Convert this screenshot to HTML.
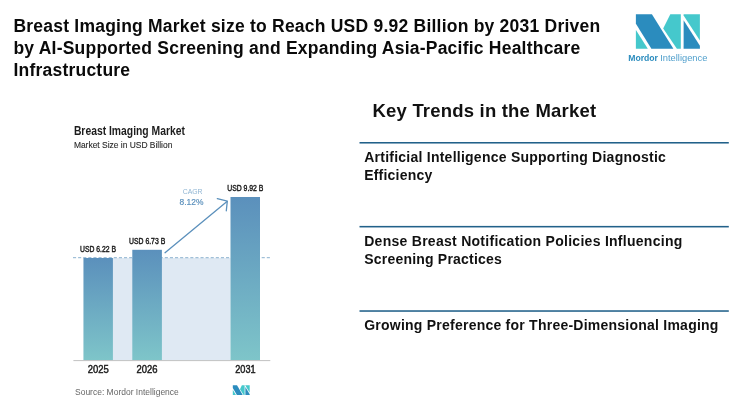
<!DOCTYPE html>
<html><head><meta charset="utf-8"><title>Breast Imaging Market</title>
<style>
html,body{margin:0;padding:0;background:#fff;}
body{width:750px;height:411px;position:relative;overflow:hidden;font-family:"Liberation Sans",sans-serif;color:#000;}
.abs{position:absolute;white-space:nowrap;}
#title{left:13.4px;top:14.55px;font-weight:bold;font-size:17.5px;line-height:22px;letter-spacing:0.225px;color:#0a0a0a;}
#kt{left:372.5px;top:100px;font-weight:bold;font-size:18.5px;line-height:22px;letter-spacing:0.2px;color:#111;}
.item{left:364.2px;font-weight:bold;font-size:14px;line-height:18px;letter-spacing:0.21px;color:#111;}
</style></head><body>
<div id="title" class="abs">Breast Imaging Market size to Reach USD 9.92 Billion by 2031 Driven<br>by AI-Supported Screening and Expanding Asia-Pacific Healthcare<br>Infrastructure</div>

<svg class="abs" style="left:0;top:0" width="750" height="411" viewBox="0 0 750 411">
  <!-- logo -->
  <g>
    <polygon points="635.9,14.3 651.9,14.3 673.4,48.8 651.4,48.8 635.9,23.8" fill="#2b8cbe"/>
    <polygon points="635.9,29.9 635.9,48.8 647.8,48.8" fill="#45c8cc"/>
    <polygon points="670.3,14.3 680.8,14.3 680.8,48.8 676.9,48.8 663.2,28.4" fill="#45c8cc"/>
    <polygon points="683.6,14.3 699.9,14.3 699.9,40.6 683.6,15.6" fill="#45c8cc"/>
    <polygon points="683.6,20.2 699.9,45.8 699.9,48.8 683.6,48.8" fill="#2b8cbe"/>
    <text x="628.2" y="61" font-family="Liberation Sans, sans-serif" font-size="9.2" font-weight="bold" fill="#2b8cbe" textLength="29.8" lengthAdjust="spacingAndGlyphs">Mordor</text>
    <text x="660.2" y="61" font-family="Liberation Sans, sans-serif" font-size="9.2" fill="#4f9fcc" textLength="47.2" lengthAdjust="spacingAndGlyphs">Intelligence</text>
  </g>
  <!-- rules -->
  <g fill="#22618a">
    <rect x="359.5" y="142.0" width="369.3" height="1.55"/>
    <rect x="359.5" y="225.9" width="369.3" height="1.55"/>
    <rect x="359.5" y="310.25" width="369.3" height="1.55"/>
  </g>
  <!-- chart -->
  <defs>
    <linearGradient id="bg" x1="0" y1="0" x2="0" y2="1">
      <stop offset="0" stop-color="#5b90bc"/><stop offset="1" stop-color="#7ec5c9"/>
    </linearGradient>
  </defs>
  <rect x="83.5" y="258" width="147" height="102.3" fill="#dfe9f3"/>
  <line x1="73" y1="257.7" x2="271.6" y2="257.7" stroke="#7fa9c9" stroke-width="0.9" stroke-dasharray="3.1 2"/>
  <rect x="83.5" y="258" width="29.4" height="102.3" fill="url(#bg)"/>
  <rect x="132.3" y="249.8" width="29.6" height="110.5" fill="url(#bg)"/>
  <rect x="230.5" y="197" width="29.5" height="163.3" fill="url(#bg)"/>
  <line x1="73.4" y1="360.6" x2="270.3" y2="360.6" stroke="#c2c2c2" stroke-width="1"/>
  <g fill="none" stroke="#5b90bc" stroke-width="1.3" stroke-linecap="round" stroke-linejoin="round">
    <line x1="165" y1="252.7" x2="227" y2="201.4"/>
    <polyline points="217.3,198.6 227.3,201.1 226.3,210.8"/>
  </g>
  <g font-family="Liberation Sans, sans-serif">
    <text x="73.9" y="134.8" font-size="12" font-weight="bold" fill="#1c1c1c" textLength="111" lengthAdjust="spacingAndGlyphs">Breast Imaging Market</text>
    <text x="73.9" y="148" font-size="9.4" fill="#2a2a2a" stroke="#2a2a2a" stroke-width="0.12" textLength="98.5" lengthAdjust="spacingAndGlyphs">Market Size in USD Billion</text>
    <g font-size="8.2" fill="#1a1a1a" stroke="#1a1a1a" stroke-width="0.4">
    <text x="80" y="252.2" textLength="36" lengthAdjust="spacingAndGlyphs">USD 6.22 B</text>
    <text x="129" y="244" textLength="36.2" lengthAdjust="spacingAndGlyphs">USD 6.73 B</text>
    <text x="227.2" y="191.2" textLength="36.2" lengthAdjust="spacingAndGlyphs">USD 9.92 B</text>
    </g>
    <text x="182.7" y="194" font-size="7.6" fill="#8fb5d3" textLength="19.9" lengthAdjust="spacingAndGlyphs">CAGR</text>
    <text x="179.6" y="205.3" font-size="9.9" fill="#5b90bc" stroke="#5b90bc" stroke-width="0.2" textLength="23.9" lengthAdjust="spacingAndGlyphs">8.12%</text>
    <g font-size="10.2" fill="#1c1c1c" stroke="#1c1c1c" stroke-width="0.45">
    <text x="87.7" y="373" textLength="21" lengthAdjust="spacingAndGlyphs">2025</text>
    <text x="136.5" y="373" textLength="21" lengthAdjust="spacingAndGlyphs">2026</text>
    <text x="235.2" y="373" textLength="20.4" lengthAdjust="spacingAndGlyphs">2031</text>
    </g>
    <text x="75" y="394.7" font-size="8.9" fill="#666" textLength="103.8" lengthAdjust="spacingAndGlyphs">Source:  Mordor Intelligence</text>
  </g>
  <!-- small logo -->
  <g transform="translate(232.8,385.2) scale(0.264,0.284)">
    <g transform="translate(-635.9,-14.3)">
    <polygon points="635.9,14.3 651.9,14.3 673.4,48.8 651.4,48.8 635.9,23.8" fill="#2b8cbe"/>
    <polygon points="635.9,29.9 635.9,48.8 647.8,48.8" fill="#45c8cc"/>
    <polygon points="670.3,14.3 680.8,14.3 680.8,48.8 676.9,48.8 663.2,28.4" fill="#45c8cc"/>
    <polygon points="683.6,14.3 699.9,14.3 699.9,40.6 683.6,15.6" fill="#45c8cc"/>
    <polygon points="683.6,20.2 699.9,45.8 699.9,48.8 683.6,48.8" fill="#2b8cbe"/>
    </g>
  </g>
</svg>

<div id="kt" class="abs">Key Trends in the Market</div>
<div class="abs item" style="top:147.5px"><span style="letter-spacing:0.245px">Artificial Intelligence Supporting Diagnostic</span><br>Efficiency</div>
<div class="abs item" style="top:231.5px"><span style="letter-spacing:0.275px">Dense Breast Notification Policies Influencing</span><br>Screening Practices</div>
<div class="abs item" style="top:315.5px"><span style="letter-spacing:0.237px">Growing Preference for Three-Dimensional Imaging</span></div>
</body></html>
